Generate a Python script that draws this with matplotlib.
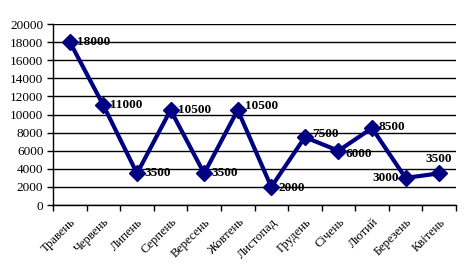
import matplotlib.pyplot as plt
import numpy as np

months = ["Травень", "Червень", "Липень", "Серпень", "Вересень", "Жовтень",
          "Листопад", "Грудень", "Січень", "Лютий", "Березень", "Квітень"]
values = [18000, 11000, 3500, 10500, 3500, 10500, 2000, 7500, 6000, 8500, 3000, 3500]
# label offsets in points (dx, dy, ha)
offsets = [(5, 0, "left")] * 5 + [(5, 3, "left"), (5, -1, "left"), (5, 2, "left"),
                                 (5, -2, "left"), (5, 1, "left"),
                                 (-5, 0, "right"), (0, 10, "center")]

plt.rcParams["font.family"] = ["Liberation Serif", "DejaVu Serif"]

fig = plt.figure(figsize=(4.7, 2.76), dpi=100)
ax = fig.add_axes([0.113, 0.257, 0.857, 0.656])

x = np.arange(len(months))
ax.plot(x, values, color="#000080", lw=3, marker="D", ms=8, mfc="#000080", mec="#000080", zorder=3)

for xi, v, (dx, dy, ha) in zip(x, values, offsets):
    ax.annotate(str(v), (xi, v), xytext=(dx, dy), textcoords="offset points",
                ha=ha, va="center", fontsize=9.5, fontweight="bold", zorder=4)

ax.set_xlim(-0.5, len(months) - 0.5)
ax.set_ylim(0, 20000)
ax.set_yticks(np.arange(0, 20001, 2000))
ax.tick_params(axis="y", labelsize=9.5, length=4, width=1, direction="out", pad=3)
ax.yaxis.grid(True, color="black", lw=1)
ax.set_axisbelow(True)

ax.set_xticks(np.arange(-0.5, len(months), 1))
ax.set_xticklabels([])
ax.tick_params(axis="x", length=4, width=1, direction="out")
ax.set_xticks(x, minor=True)
ax.set_xticklabels(months, minor=True, rotation=45, ha="right", rotation_mode="anchor", fontsize=9)
ax.tick_params(axis="x", which="minor", length=0, pad=8)

for s in ["top", "right"]:
    ax.spines[s].set_visible(False)
for s in ["left", "bottom"]:
    ax.spines[s].set_linewidth(1)

fig.savefig("out.png", dpi=100)
